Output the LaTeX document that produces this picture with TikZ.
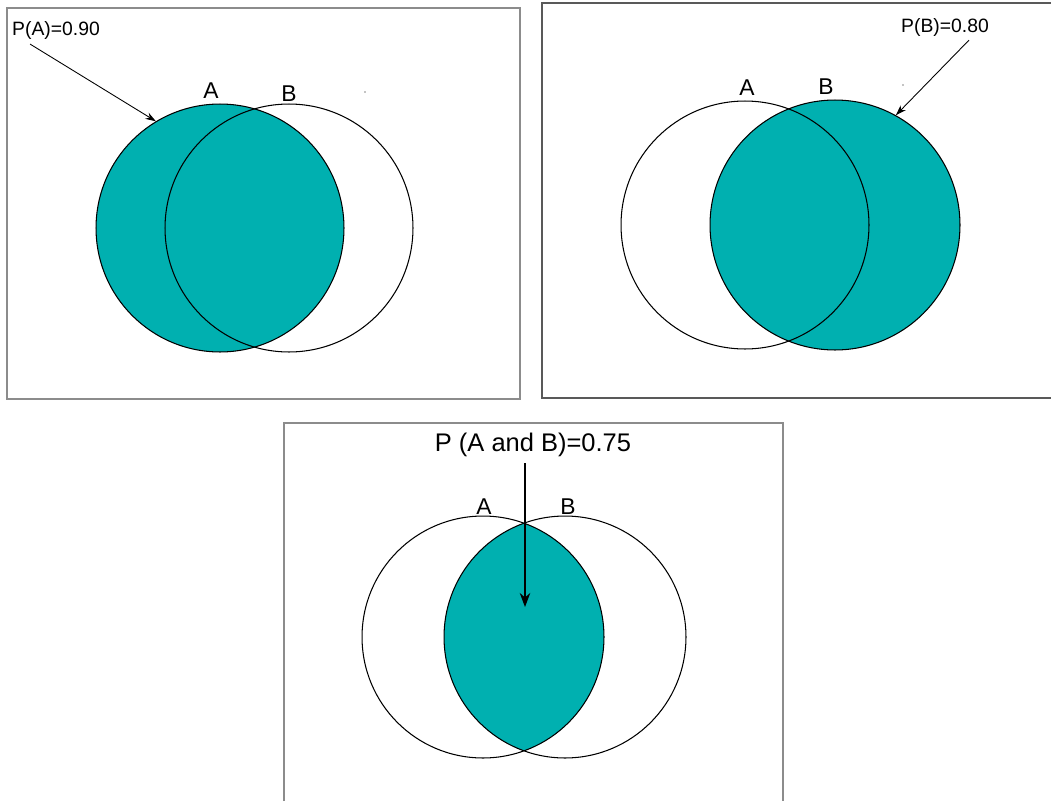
\documentclass[tikz,border=0pt]{standalone}
\usepackage{fontspec}
\setmainfont{Liberation Sans}
\usetikzlibrary{arrows.meta}
\definecolor{teal1}{RGB}{0,176,176}
\tikzset{
  set/.style={circle,draw,line width=0.6pt,inner sep=0pt,minimum size=#1},
  setlbl/.style={font=\fontsize{13}{13}\selectfont},
  prob/.style={font=\fontsize{11}{11}\selectfont,inner sep=1pt},
  frame/.style={line width=1pt,draw=black!45},
  pointer/.style={-{Stealth[length=6pt,width=4pt]},line width=0.5pt}
}
\begin{document}
\begin{tikzpicture}[x=0.02cm,y=-0.02cm]
  \useasboundingbox (0,0) rectangle (1051,801);
  % panel 1: P(A)
  \draw[frame] (7,8) rectangle (520,399);
  \node[set=4.96cm,fill=teal1] (a1) at (220,228) {};
  \node[set=4.96cm] (b1) at (289,228) {};
  \node[setlbl] (la1) at (211,91) {A};
  \node[setlbl] (lb1) at (289,94) {B};
  \fill (365,92) circle (0.6);
  \node[prob] (pa) at (56,30) {P(A)=0.90};
  \draw[pointer] (pa.south west) ++(20,3) -- (a1.121);
  % panel 2: P(B)
  \draw[frame,draw=black!65] (1051,3) -- (542,3) -- (542,398) -- (1051,398);
  \node[set=5.0cm,fill=teal1] (b2) at (835,225) {};
  \node[set=4.96cm] (a2) at (745,225) {};
  \node[setlbl] (la2) at (747,88) {A};
  \node[setlbl] (lb2) at (826,87) {B};
  \fill (903,85) circle (0.6);
  \node[prob] (pb) at (945,27) {P(B)=0.80};
  \draw[pointer] (pb.south) ++(24,2) -- (b2.61);
  % panel 3: P(A and B)
  \draw[frame] (284,801) |- (783,423) -- (783,801);
  \begin{scope}
    \clip (483,637) circle (121);
    \fill[teal1] (565,637) circle (121);
  \end{scope}
  \node[set=4.84cm] (a3) at (483,637) {};
  \node[set=4.84cm] (b3) at (565,637) {};
  \node[setlbl] (la3) at (484,507) {A};
  \node[setlbl] (lb3) at (568,507) {B};
  \node[font=\fontsize{14.5}{14.5}\selectfont] (pab) at (533,445) {P (A and B)=0.75};
  \coordinate (tip) at (525,607);
  \draw[-{Stealth[length=8pt,width=6pt]},line width=0.6pt] (pab.south -| tip) -- (tip);
\end{tikzpicture}
\end{document}
